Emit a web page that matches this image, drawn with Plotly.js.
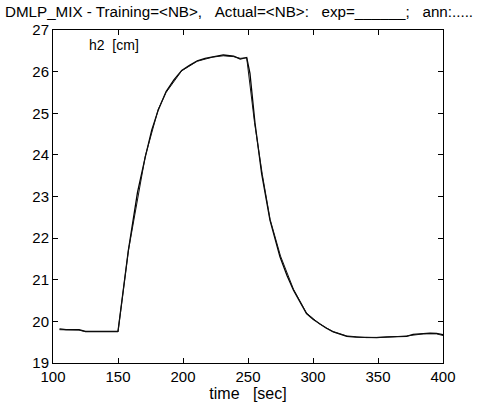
<!DOCTYPE html>
<html>
<head>
<meta charset="utf-8">
<script src="https://cdn.plot.ly/plotly-3.0.1.min.js"></script>
<style>html,body{margin:0;padding:0;background:#fff}</style>
</head>
<body>
<div id="chart" style="width:480px;height:409px"></div>
<script>
// time [sec]
const timeExp = [105, 110, 120, 125, 135, 150, 158, 165, 171, 176, 181, 187, 193, 199, 205, 211, 217, 223, 231, 239, 244, 249, 251.5, 255.4, 260.5, 266.9, 274.6, 280, 285, 290, 295, 300, 305.4, 310, 315.6, 320, 326, 333, 341, 349, 357, 365, 372, 377, 385, 390, 395, 400];
// h2 [cm], experiment
const h2Exp = [19.82, 19.80, 19.80, 19.76, 19.76, 19.76, 21.71, 23.10, 23.95, 24.60, 25.08, 25.52, 25.80, 26.03, 26.15, 26.26, 26.32, 26.36, 26.40, 26.37, 26.30, 26.34, 25.96, 24.76, 23.55, 22.43, 21.55, 21.10, 20.75, 20.47, 20.19, 20.05, 19.93, 19.84, 19.75, 19.70, 19.64, 19.62, 19.61, 19.61, 19.63, 19.64, 19.64, 19.69, 19.71, 19.72, 19.71, 19.68];
const timeAnn = [105, 120, 125, 150, 158, 171, 181, 187, 199, 211, 223, 231, 239, 244, 249, 255, 261, 267, 275, 285, 295, 305, 315, 326, 341, 357, 372, 385, 395, 400];
// h2 [cm], ANN output
const h2Ann = [19.80, 19.79, 19.75, 19.75, 21.70, 23.97, 25.10, 25.50, 26.02, 26.25, 26.35, 26.38, 26.36, 26.32, 26.33, 24.78, 23.53, 22.45, 21.57, 20.77, 20.20, 19.94, 19.76, 19.65, 19.61, 19.62, 19.65, 19.70, 19.70, 19.66];

const xTicks = [100, 150, 200, 250, 300, 350, 400];
const yTicks = [19, 20, 21, 22, 23, 24, 25, 26, 27];

const fontFam = 'Liberation Sans, Arial, sans-serif';

const data = [
  {x: timeExp, y: h2Exp, type: 'scatter', mode: 'lines', line: {color: '#000', width: 1.3}, hoverinfo: 'skip'},
  {x: timeAnn, y: h2Ann, type: 'scatter', mode: 'lines', line: {color: '#111', width: 1}, hoverinfo: 'skip'}
];

const axisCommon = {
  showline: true, linecolor: '#000', linewidth: 1, mirror: 'ticks',
  ticks: 'inside', ticklen: 5, tickcolor: '#000', tickwidth: 1,
  showgrid: false, zeroline: false,
  tickfont: {family: fontFam, size: 15, color: '#000'}
};

const layout = {
  width: 480, height: 409,
  margin: {l: 53, r: 37, t: 30, b: 46},
  paper_bgcolor: '#fff', plot_bgcolor: '#fff',
  showlegend: false,
  title: {
    text: 'DMLP_MIX - Training=&lt;NB&gt;,\u00a0\u00a0\u00a0Actual=&lt;NB&gt;:\u00a0\u00a0\u00a0exp=______;\u00a0\u00a0\u00a0ann:.....',
    font: {family: fontFam, size: 15.2, color: '#000'},
    x: 0.498, xanchor: 'center', xref: 'container',
    y: 0.972, yanchor: 'middle', yref: 'container'
  },
  xaxis: Object.assign({}, axisCommon, {
    range: [100, 400], tickvals: xTicks, ticktext: xTicks.map(String),
    title: {text: 'time\u00a0\u00a0\u00a0[sec]', font: {family: fontFam, size: 16, color: '#000'}, standoff: 3}
  }),
  yaxis: Object.assign({}, axisCommon, {
    range: [19, 27], tickvals: yTicks, ticktext: yTicks.map(String), ticklabelstandoff: 0
  }),
  annotations: [{
    text: 'h2\u00a0\u00a0[cm]', xref: 'paper', yref: 'paper', x: 0.088, y: 0.955,
    xanchor: 'left', yanchor: 'middle', showarrow: false,
    font: {family: fontFam, size: 14, color: '#000'}
  }]
};

Plotly.newPlot('chart', data, layout, {staticPlot: true, displayModeBar: false});
</script>
</body>
</html>
